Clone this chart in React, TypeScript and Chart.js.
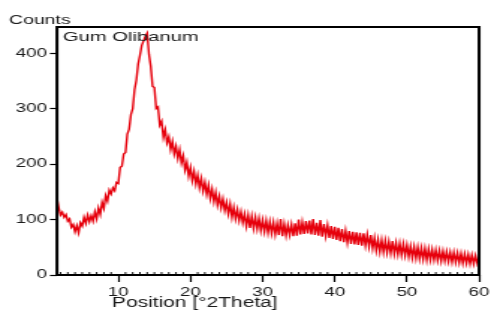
import React, { useEffect, useRef } from 'react';
import { Chart, registerables } from 'chart.js';

Chart.register(...registerables);

// Scan settings (°2Theta) and measured counts
const START_2THETA = 1.5;
const STEP_2THETA = 0.25;
const COUNTS: number[] = [
  138, 121, 108, 113, 104, 109, 97, 101, 86, 91,
  78, 89, 76, 94, 88, 104, 93, 108, 96, 107,
  97, 114, 101, 121, 109, 131, 120, 143, 133, 153,
  146, 157, 152, 167, 165, 194, 196, 218, 221, 254,
  263, 289, 300, 334, 351, 380, 396, 414, 422, 430,
  436, 398, 376, 340, 338, 300, 303, 270, 277, 248,
  262, 238, 249, 226, 241, 218, 232, 210, 226, 202,
  215, 189, 203, 178, 194, 170, 187, 164, 180, 157,
  174, 151, 167, 145, 162, 138, 155, 132, 149, 126,
  142, 121, 137, 116, 131, 110, 128, 104, 122, 101,
  118, 98, 114, 94, 110, 88, 108, 85, 106, 84,
  104, 83, 102, 80, 99, 78, 98, 76, 96, 75,
  95, 73, 93, 72, 101, 70, 92, 71, 90, 72,
  91, 70, 93, 71, 100, 73, 95, 74, 97, 75,
  98, 73, 101, 72, 94, 71, 99, 69, 92, 70,
  90, 67, 88, 65, 87, 63, 85, 61, 83, 59,
  80, 58, 79, 56, 78, 55, 77, 54, 76, 53,
  75, 53, 73, 51, 72, 48, 67, 44, 64, 42,
  63, 41, 62, 40, 60, 39, 61, 38, 58, 37,
  57, 36, 56, 35, 54, 33, 52, 31, 51, 30,
  50, 29, 49, 28, 48, 27, 47, 27, 46, 27,
  45, 26, 44, 25, 43, 25, 42, 24, 41, 23,
  41, 23, 40, 22, 39, 21, 38, 21, 37, 20,
  36, 20, 35, 21, 33,
];

const X_TICKS = [10, 20, 30, 40, 50, 60];
const Y_TICKS = [0, 100, 200, 300, 400];
const X_MIN = 1.5;
const X_MAX = 60;
const Y_MIN = 0;
const Y_MAX = 447;

const TITLE = 'Gum Olibanum';
const Y_LABEL = 'Counts';
const X_LABEL = 'Position [°2Theta]';

// canvas drawn narrower then stretched horizontally, like the reference
const DISPLAY_W = 494;
const DISPLAY_H = 313;
const W = 330;
const H = 313;
const K = DISPLAY_W / W;

const FONT = 'Arial, "Liberation Sans", sans-serif';
const TEXT = '#1a1a1a';

const decor = {
  id: 'decor',
  afterDatasetsDraw(chart: any) {
    const { ctx, chartArea: a, scales } = chart;
    const x = scales.x;
    ctx.save();
    ctx.strokeStyle = '#000';
    ctx.lineWidth = 2;
    ctx.strokeRect(a.left, a.top, a.right - a.left, a.bottom - a.top);
    ctx.lineWidth = 0.9;
    for (let v = Math.ceil(X_MIN); v < X_MAX; v++) {
      if (v % 10 === 0) continue;
      const px = x.getPixelForValue(v);
      ctx.beginPath();
      ctx.moveTo(px, a.bottom);
      ctx.lineTo(px, a.bottom - 3);
      ctx.stroke();
    }
    ctx.restore();
  },
  afterDraw(chart: any) {
    const { ctx } = chart;
    ctx.save();
    ctx.fillStyle = TEXT;
    ctx.textBaseline = 'alphabetic';
    ctx.textAlign = 'left';
    ctx.font = `13px ${FONT}`;
    ctx.fillText(Y_LABEL, 9 / K, 24);
    ctx.font = `13.5px ${FONT}`;
    ctx.fillText(TITLE, 63 / K, 41);
    ctx.font = `14px ${FONT}`;
    ctx.fillText(X_LABEL, 112 / K, 307);
    ctx.restore();
  },
};

export default function App() {
  const ref = useRef<HTMLCanvasElement | null>(null);

  useEffect(() => {
    const canvas = ref.current;
    if (!canvas) return;
    const points = COUNTS.map((c, i) => ({ x: START_2THETA + i * STEP_2THETA, y: c }));
    const chart = new Chart(canvas, {
      type: 'line',
      data: {
        datasets: [
          {
            data: points,
            borderColor: '#e6000c',
            borderWidth: 1.4,
            pointRadius: 0,
            tension: 0,
            fill: false,
          },
        ],
      },
      options: {
        animation: false,
        responsive: false,
        devicePixelRatio: 1,
        parsing: false,
        normalized: true,
        layout: { padding: { top: 27, right: W - 483 / K, left: 0, bottom: 0 } },
        plugins: {
          legend: { display: false },
          tooltip: { enabled: false },
          title: { display: false },
        },
        scales: {
          x: {
            type: 'linear',
            min: X_MIN,
            max: X_MAX,
            afterBuildTicks: (s: any) => {
              s.ticks = X_TICKS.map((v) => ({ value: v }));
            },
            afterFit: (s: any) => {
              s.height = H - 275;
            },
            border: { display: false },
            grid: {
              display: true,
              drawOnChartArea: false,
              drawTicks: true,
              tickLength: 7,
              tickColor: '#000',
              tickWidth: 1.2,
            },
            ticks: {
              autoSkip: false,
              maxRotation: 0,
              padding: 3,
              color: TEXT,
              font: { family: FONT, size: 12.5 },
            },
          },
          y: {
            type: 'linear',
            min: Y_MIN,
            max: Y_MAX,
            afterBuildTicks: (s: any) => {
              s.ticks = Y_TICKS.map((v) => ({ value: v }));
            },
            afterFit: (s: any) => {
              s.width = 57 / K;
            },
            border: { display: false },
            grid: {
              display: true,
              drawOnChartArea: false,
              drawTicks: true,
              tickLength: 4.7,
              tickColor: '#000',
              tickWidth: 1.2,
            },
            ticks: {
              padding: 2,
              color: TEXT,
              font: { family: FONT, size: 12.5 },
            },
          },
        },
      },
      plugins: [decor],
    });
    return () => chart.destroy();
  }, []);

  return (
    <canvas
      ref={ref}
      width={W}
      height={H}
      style={{
        position: 'fixed',
        left: 0,
        top: 0,
        width: `${DISPLAY_W}px`,
        height: `${DISPLAY_H}px`,
        display: 'block',
        background: '#fff',
      }}
    />
  );
}
